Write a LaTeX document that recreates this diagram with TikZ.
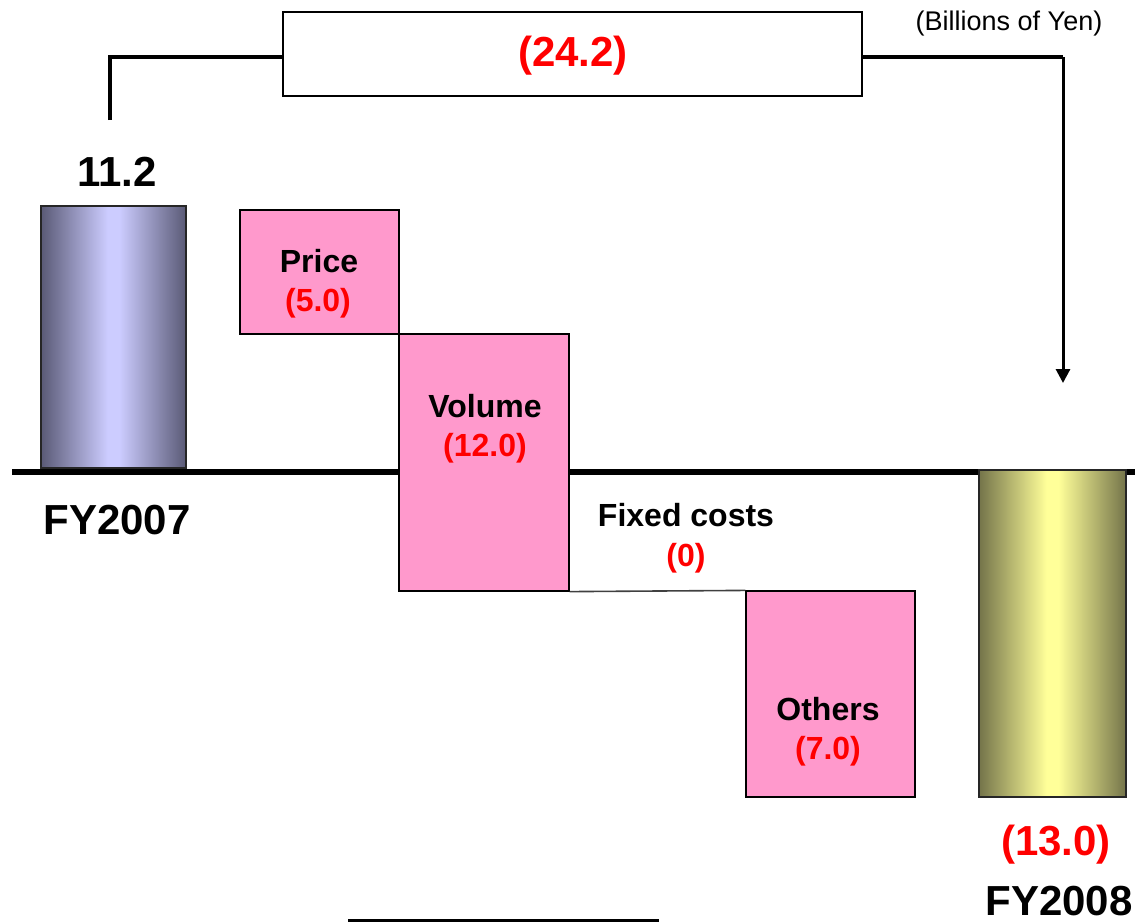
\documentclass[tikz,border=0pt]{standalone}
\usepackage{fontspec}
\setmainfont{Liberation Sans}
\usetikzlibrary{fit,arrows.meta}
\definecolor{pinkfill}{HTML}{FF99CC}
\definecolor{bDark}{HTML}{5A5A76}
\definecolor{bLight}{HTML}{CCCCFF}
\definecolor{yDark}{HTML}{74744A}
\definecolor{yLight}{HTML}{FFFF99}
\definecolor{valred}{HTML}{FF0000}
\pgfdeclarehorizontalshading{blueshade}{100bp}{color(0bp)=(bDark); color(25bp)=(bDark); color(48bp)=(bLight); color(52bp)=(bLight); color(75bp)=(bDark); color(100bp)=(bDark)}
\pgfdeclarehorizontalshading{yellowshade}{100bp}{color(0bp)=(yDark); color(25bp)=(yDark); color(48bp)=(yLight); color(52bp)=(yLight); color(75bp)=(yDark); color(100bp)=(yDark)}
\begin{document}
\begin{tikzpicture}[x=0.5pt,y=-0.5pt,
  big/.style={font=\fontsize{21}{21}\selectfont\bfseries, inner sep=0pt},
  bigred/.style={big, text=valred},
  mid/.style={font=\fontsize{16}{16}\selectfont\bfseries, inner sep=0pt},
  midred/.style={mid, text=valred},
  small/.style={font=\fontsize{13.5}{13.5}\selectfont, inner sep=0pt},
  box/.style={inner sep=0pt, draw=black, line width=0.6pt},
  pinkbox/.style={box, fill=pinkfill},
  barbox/.style={box, draw=black!85, line width=0.8pt, shade},
  bracketline/.style={line width=2pt},
  arrowline/.style={line width=1.5pt, -{Triangle[width=7pt,length=7pt]}},
]
\useasboundingbox (0,0) rectangle (1135,923);
% baseline
\coordinate (bl) at (12,472);
\coordinate (br) at (1135,472);
\draw[line width=3.2pt] (bl) -- (br);
% bars and boxes
\node[fit={(41,206) (186,468)}, barbox, shading=blueshade] (fy07) {};
\node[fit={(979,470) (1126,797)}, barbox, shading=yellowshade] (fy08) {};
\node[fit={(240,210) (399,334)}, pinkbox] (price) {};
\node[fit={(399,334) (569,591)}, pinkbox] (vol) {};
\node[fit={(746,591) (915,797)}, pinkbox] (oth) {};
\draw[line width=0.8pt, black!75] (vol.south east) -- (oth.north west);
% total box and bracket
\node[fit={(283,12) (862,96)}, box, fill=white] (tot) {};
\node[bigred] (totv) at (573,56) {(24.2)};
\coordinate (lb) at (110,120);
\coordinate (rc) at (1063,57);
\coordinate (ra) at (1063,383);
\draw[bracketline] (lb) |- ([yshift=-1.5pt]tot.west);
\draw[bracketline] ([yshift=-1.5pt]tot.east) -- (rc);
\draw[arrowline] (rc) -- (ra);
% stray line at bottom
\coordinate (ua) at (348,920);
\coordinate (ub) at (659,920);
\draw[line width=1.5pt] (ua) -- (ub);
% labels
\node[small] (unit) at (1009,24) {(Billions of Yen)};
\node[big] (v07) at (117,172) {11.2};
\node[big] (n07) at (117,520) {FY2007};
\node[mid] (pl) at (319,261) {Price};
\node[midred] (pv) at (318,303) {(5.0)};
\node[mid] (vl) at (485,406) {Volume};
\node[midred] (vv) at (485,448) {(12.0)};
\node[mid] (fl) at (686,515) {Fixed costs};
\node[midred] (fv) at (686,558) {(0)};
\node[mid] (ol) at (828,709) {Others};
\node[midred] (ov) at (828,751) {(7.0)};
\node[bigred] (v08) at (1056,845) {(13.0)};
\node[big] (n08) at (1059,901) {FY2008};
\end{tikzpicture}
\end{document}
